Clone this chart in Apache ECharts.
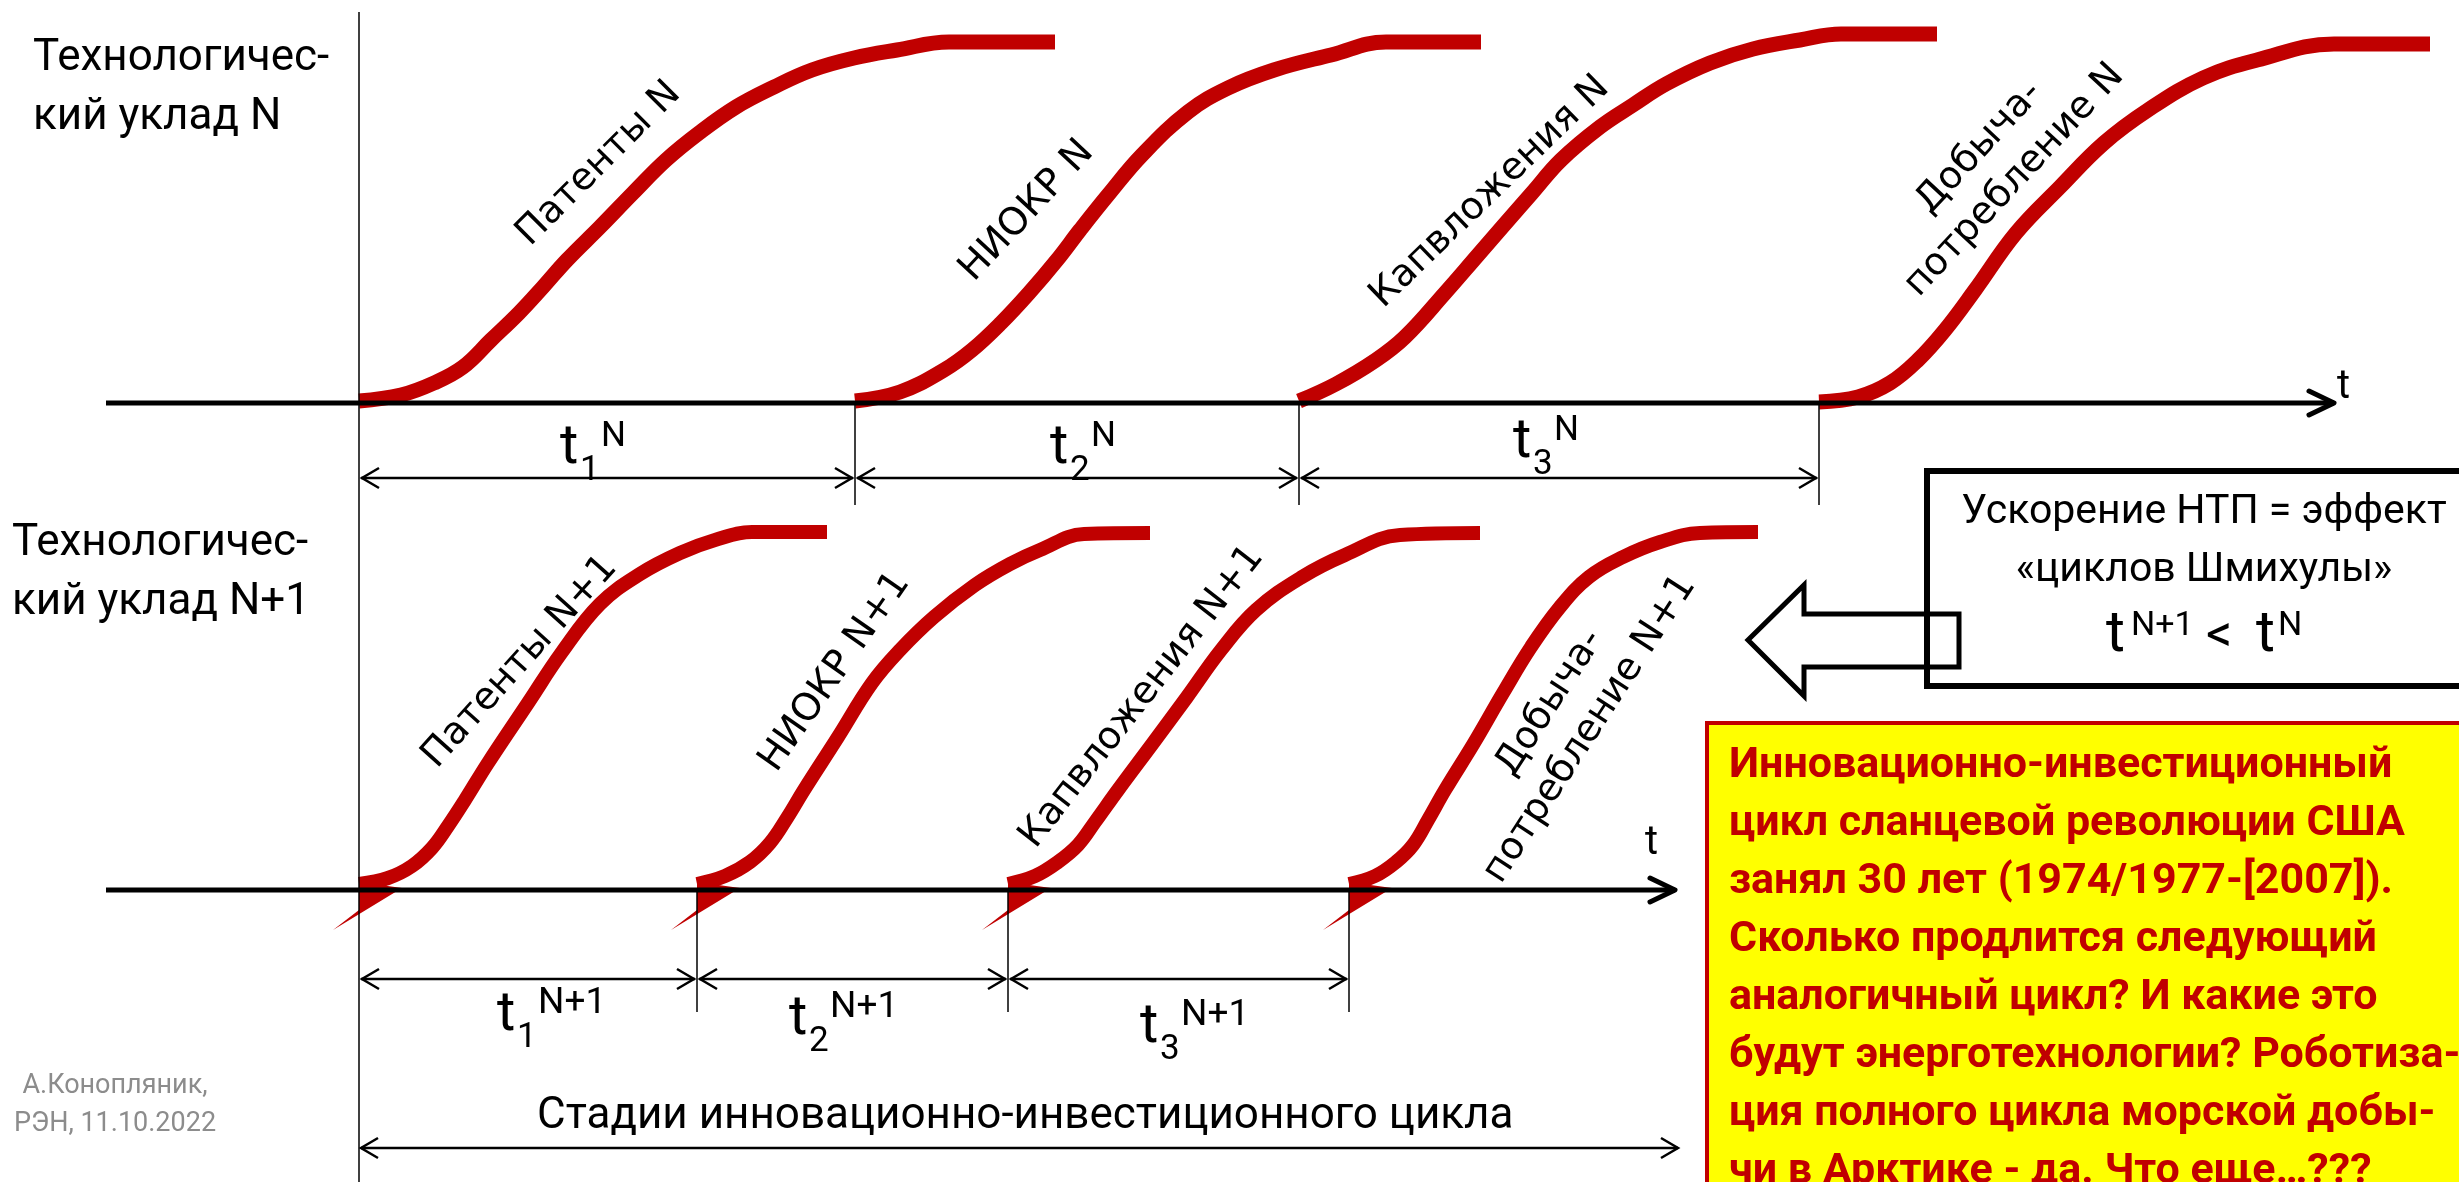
<!DOCTYPE html>
<html><head><meta charset="utf-8">
<script src="https://cdn.jsdelivr.net/npm/echarts@6/dist/echarts.min.js"></script>
<style>html,body{margin:0;padding:0;background:#fff;overflow:hidden}#c{width:2459px;height:1182px}</style>
</head><body><div id="c"></div>
<script>
// ================= DATA =================
const rowTitleN  = ['Технологичес-', 'кий уклад N'];
const rowTitleN1 = ['Технологичес-', 'кий уклад N+1'];
const stageLabelsN  = ['Патенты N', 'НИОКР N', 'Капвложения N', 'Добыча-\nпотребление N'];
const stageLabelsN1 = ['Патенты N+1', 'НИОКР N+1', 'Капвложения N+1', 'Добыча-\nпотребление N+1'];
const durIndex = ['1', '2', '3'];
const durSup = ['N', 'N+1'];
const axisName = 't';
// stage start times on each row's time axis
const stagesN  = [359, 855, 1299, 1819];
const stagesN1 = [359, 697, 1008, 1349];
const rowLevel = [403, 890];
const axisBegin = 106;
const axisEnd = [2334, 1675];
const cycleEnd = 1678;
// S-curves of each stage (time, level)
const curveN_1 = [[359,401],[401,395],[434,383],[463,367],[491,340],[519,313],[543,287],[567,260],[600,227],[633,193],[666,160],[699,133],[736,107],[774,87],[812,70],[854,58],[897,50],[949,42],[1055,42]];
const curveN_2 = [[855,401],[900,392],[944,370],[972,350],[1001,323],[1029,293],[1057,260],[1080,230],[1108,195],[1142,155],[1188,112],[1228,88],[1274,70],[1331,55],[1386,42],[1481,42]];
const curveN_3 = [[1299,401],[1336,384],[1376,360],[1405,337],[1445,293],[1478,255],[1504,225],[1532,193],[1561,160],[1600,127],[1633,105],[1666,84],[1710,63],[1753,49],[1800,40],[1841,34],[1937,34]];
const curveN_4 = [[1819,402],[1858,397],[1890,383],[1918,360],[1945,330],[1975,290],[2016,233],[2060,187],[2104,143],[2148,110],[2203,78],[2257,60],[2334,44],[2430,44]];
const curveN1_1 = [[359,884],[388,878],[412,866],[432,848],[448,826],[465,800],[488,763],[528,703],[562,652],[600,604],[640,574],[680,553],[715,540],[752,532],[827,532]];
const curveN1_2 = [[697,884],[725,876],[750,862],[770,843],[787,818],[804,790],[838,737],[872,683],[900,650],[934,617],[975,585],[1010,564],[1040,550],[1084,534],[1150,533]];
const curveN1_3 = [[1008,884],[1035,876],[1058,862],[1078,845],[1095,822],[1118,790],[1153,743],[1187,697],[1221,650],[1256,610],[1302,577],[1345,555],[1400,535],[1480,533]];
const curveN1_4 = [[1349,884],[1375,876],[1396,862],[1413,845],[1428,820],[1445,790],[1474,743],[1503,693],[1531,647],[1560,607],[1589,577],[1623,557],[1660,542],[1700,533],[1758,532]];
// tapered tails of the N+1 curves below the axis (offsets from the stage start)
const tailShape = [[0,-8],[43,-2],[-26,40],[0,20]];
const cycleCaption = 'Стадии инновационно-инвестиционного цикла';
const authorLines = ['А.Конопляник,', 'РЭН, 11.10.2022'];
const boxLines = ['Ускорение НТП = эффект', '«циклов Шмихулы»'];
const noteLines = [
  'Инновационно-инвестиционный',
  'цикл сланцевой революции США',
  'занял 30 лет (1974/1977-[2007]).',
  'Сколько продлится следующий',
  'аналогичный цикл? И какие это',
  'будут энерготехнологии? Роботиза-',
  'ция полного цикла морской добы-',
  'чи в Арктике - да. Что еще…???'
];

// ================= LAYOUT / STYLE =================
const RED = '#C00000';
const FC = 'Roboto, "Noto Sans", sans-serif';
const FV = '"DejaVu Sans", Verdana, sans-serif';
const durLevel = [478, 979];
const tickBottom = [505, 1012];
const cycleLevel = 1148;
const stageLabelPosN  = [[599,164,45],[1027,211,47],[1490,192,44],[1997,164,47]];
const stageLabelPosN1 = [[520,662,48],[835,672,55],[1142,697,52],[1570,716,57]];
const durPosN  = [[560,468],[1050,468],[1513,462]];
const durPosN1 = [[497,1035],[789,1039],[1140,1047]];

function chevron(x, y, dir, len, half){ return [[x - dir*len, y - half],[x, y],[x - dir*len, y + half]]; }

const thick = [], thin = [], texts = [], frames = [], tails = [];
rowLevel.forEach((lv, r) => {
  thick.push({kind:'line', pts:[[axisBegin, lv],[axisEnd[r], lv]], style:{stroke:'#000', lineWidth:5}});
  thick.push({kind:'polyline', pts:chevron(axisEnd[r], lv, 1, 25, 12), style:{stroke:'#000', lineWidth:5, lineCap:'round', lineJoin:'round'}});
});
thin.push({kind:'line', pts:[[359,12],[359,1182]], style:{stroke:'#000', lineWidth:1.5}});
[stagesN, stagesN1].forEach((st, r) => {
  st.forEach((s, i) => { if (i > 0) thin.push({kind:'line', pts:[[s, rowLevel[r]],[s, tickBottom[r]]], style:{stroke:'#000', lineWidth:1.5}}); });
  for (let i = 0; i < 3; i++) {
    const a = st[i], b = st[i+1], lv = durLevel[r];
    thin.push({kind:'line', pts:[[a+2, lv],[b-2, lv]], style:{stroke:'#000', lineWidth:2.5}});
    thin.push({kind:'polyline', pts:chevron(a+3, lv, -1, 17, 10), style:{stroke:'#000', lineWidth:2.5}});
    thin.push({kind:'polyline', pts:chevron(b-3, lv, 1, 17, 10), style:{stroke:'#000', lineWidth:2.5}});
  }
});
thin.push({kind:'line', pts:[[361, cycleLevel],[cycleEnd, cycleLevel]], style:{stroke:'#000', lineWidth:2.5}});
thin.push({kind:'polyline', pts:chevron(361, cycleLevel, -1, 17, 10), style:{stroke:'#000', lineWidth:2.5}});
thin.push({kind:'polyline', pts:chevron(cycleEnd, cycleLevel, 1, 17, 10), style:{stroke:'#000', lineWidth:2.5}});

stagesN1.forEach(s => tails.push({kind:'polygon', pts:tailShape.map(o => [s + o[0], rowLevel[1] + o[1]]), style:{fill:RED}}));

// frames
frames.push({kind:'polygon', pts:[[1707,723],[2475,723],[2475,1200],[1707,1200]], style:{fill:'#FFFF00', stroke:RED, lineWidth:4}});
const framesTop = [];
framesTop.push({kind:'polygon', pts:[[1927,471],[2490,471],[2490,686],[1927,686]], style:{fill:null, stroke:'#000', lineWidth:6}});
framesTop.push({kind:'polygon', pts:[[1748,640],[1804,585],[1804,614],[1959,614],[1959,667],[1804,667],[1804,696]], style:{fill:null, stroke:'#000', lineWidth:5, lineJoin:'miter'}});

// texts
function T(x, base, text, fs, opt){
  opt = opt || {};
  texts.push({kind:'text', pts:[[x, base - 0.34*fs]], rot:0, text, style:{fill:opt.fill||'#000', fontSize:fs, fontFamily:opt.ff||FC, fontWeight:opt.fw||'normal', align:opt.align||'left', verticalAlign:'middle'}});
}
T(33, 74, rowTitleN[0], 44); T(33, 133, rowTitleN[1], 44);
T(12, 559, rowTitleN1[0], 44); T(12, 618, rowTitleN1[1], 44);
T(2337, 402, axisName, 40); T(1645, 858, axisName, 40);
[[stageLabelsN, stageLabelPosN],[stageLabelsN1, stageLabelPosN1]].forEach(([labs, pos]) => {
  labs.forEach((t, i) => texts.push({kind:'text', pts:[[pos[i][0], pos[i][1]]], rot:pos[i][2]*Math.PI/180, text:t,
    style:{fill:'#000', fontSize:38, fontFamily:FV, align:'center', verticalAlign:'middle', lineHeight:48}}));
});
[[durPosN, durSup[0], 35],[durPosN1, durSup[1], 37]].forEach(([pos, sup, sfs]) => {
  pos.forEach((p, i) => {
    T(p[0], p[1], 't', 56);
    T(p[0] + 20, p[1] + 15, durIndex[i], 35);
    T(p[0] + 41, p[1] - 19, sup, sfs);
  });
});
T(537, 1132, cycleCaption, 44);
T(115, 1095, authorLines[0], 27, {fill:'#8c8c8c', align:'center'});
T(115, 1133, authorLines[1], 27, {fill:'#8c8c8c', align:'center'});
T(2204, 527, boxLines[0], 41, {align:'center'});
T(2204, 585, boxLines[1], 41, {align:'center'});
T(2106, 656, 't', 58); T(2131, 638, durSup[1], 34); T(2206, 656, '<', 52); T(2256, 656, 't', 58); T(2278, 638, durSup[0], 34);
noteLines.forEach((l, i) => T(1729, 781 + 58*i, l, 43, {fill:RED, fw:'bold'}));

function layer(shapes, z){
  return {type:'custom', coordinateSystem:'cartesian2d', z, silent:true, animation:false, clip:false,
    data: shapes.map((s, i) => [s.pts[0][0], s.pts[0][1], i]),
    renderItem(params, api){
      const s = shapes[params.dataIndex];
      const P = s.pts.map(p => api.coord(p));
      if (s.kind === 'line') return {type:'line', shape:{x1:P[0][0], y1:P[0][1], x2:P[1][0], y2:P[1][1]}, style:s.style};
      if (s.kind === 'polyline') return {type:'polyline', shape:{points:P}, style:Object.assign({fill:null}, s.style)};
      if (s.kind === 'polygon') return {type:'polygon', shape:{points:P}, style:s.style};
      return {type:'text', x:P[0][0], y:P[0][1], rotation:s.rot, style:Object.assign({text:s.text}, s.style)};
    }};
}
function curve(pts, w){
  return {type:'line', data:pts, smooth:0.4, symbol:'none', silent:true, animation:false, z:2,
    lineStyle:{color:RED, width:w, cap:'butt', join:'round'}};
}

const chart = echarts.init(document.getElementById('c'), null, {renderer:'canvas'});
chart.setOption({
  animation:false,
  backgroundColor:'#fff',
  grid:{left:0, right:0, top:0, bottom:0},
  xAxis:{type:'value', min:0, max:2459, show:false},
  yAxis:{type:'value', min:0, max:1182, inverse:true, show:false},
  series:[
    layer(frames, 1),
    curve(curveN_1, 15), curve(curveN_2, 15), curve(curveN_3, 15), curve(curveN_4, 15),
    curve(curveN1_1, 14), curve(curveN1_2, 14), curve(curveN1_3, 14), curve(curveN1_4, 14),
    layer(tails, 2),
    layer(thick, 3),
    layer(thin, 3),
    layer(framesTop, 3),
    layer(texts, 4)
  ]
});
</script></body></html>
